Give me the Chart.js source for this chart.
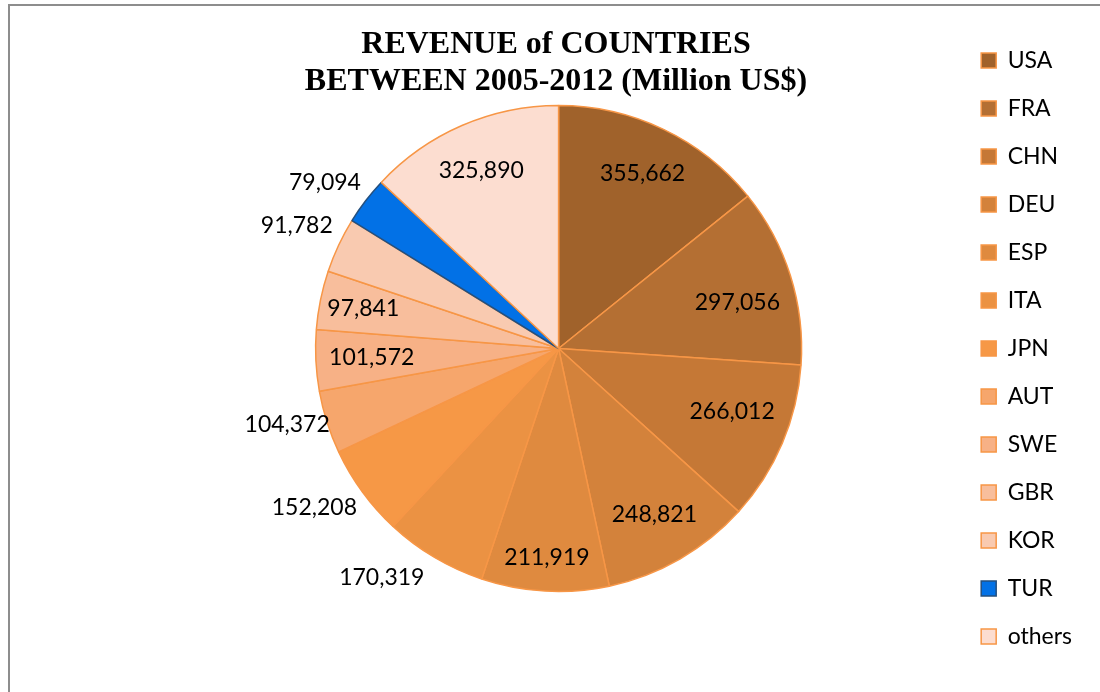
<!DOCTYPE html>
<html>
<head>
<meta charset="utf-8">
<script src="https://cdn.jsdelivr.net/npm/chart.js@4/dist/chart.umd.min.js"></script>
<style>
  html, body { margin: 0; padding: 0; background: #fff; overflow: hidden; }
  #wrap { position: relative; width: 1100px; height: 692px; }
  #frame {
    position: absolute; left: 8px; top: 4px; width: 1200px; height: 800px;
    border-left: 2px solid #8d8d8d; border-top: 2px solid #8d8d8d;
  }
  canvas { position: absolute; left: 0; top: 0; }
</style>
</head>
<body>
<div id="wrap">
  <div id="frame"></div>
  <canvas id="revenuePie" width="1100" height="692"></canvas>
</div>
<script>
// revenue per country, 2005-2012 (million US$)
const countries = ['USA', 'FRA', 'CHN', 'DEU', 'ESP', 'ITA', 'JPN', 'AUT', 'SWE', 'GBR', 'KOR', 'TUR', 'others'];
const revenue = [355662, 297056, 266012, 248821, 211919, 170319, 152208, 104372, 101572, 97841, 91782, 79094, 325890];
const titleLines = ['REVENUE of COUNTRIES', 'BETWEEN 2005-2012 (Million US$)'];

const sliceColors = ['#a0622b', '#b46f33', '#c57836', '#d3823b', '#df8a3f', '#eb9243', '#f69846',
                     '#f6a66c', '#f7b186', '#f8be9c', '#f9cab0', '#0271e6', '#fcddd0'];
const sliceBorders = countries.map(c => c === 'TUR' ? '#24507f' : '#f79646');

// where each value label sits: fraction of radius, plus a small angle nudge (deg)
const labelRadius = [0.80, 0.76, 0.76, 0.79, 0.86, 1.19, 1.20, 1.16, 0.77, 0.82, 1.19, 1.18, 0.80];
const labelNudge  = [0, 3, -3, 0, 0, 7, 3, 2, 0, 0, 0, -2, 0];

const titlePlugin = {
  id: 'twoLineTitle',
  afterDraw(chart) {
    const ctx = chart.ctx;
    ctx.save();
    ctx.font = 'bold 32px "Liberation Serif", "Times New Roman", serif';
    ctx.fillStyle = '#000';
    ctx.textAlign = 'center';
    ctx.textBaseline = 'middle';
    titleLines.forEach((line, i) => ctx.fillText(line, 556, 45 + i * 37));
    ctx.restore();
  }
};

const valueLabels = {
  id: 'valueLabels',
  afterDatasetsDraw(chart) {
    const ctx = chart.ctx;
    const meta = chart.getDatasetMeta(0);
    ctx.save();
    ctx.font = '23px Lato, "Open Sans", sans-serif';
    ctx.fillStyle = '#000';
    ctx.textAlign = 'center';
    ctx.textBaseline = 'middle';
    meta.data.forEach((arc, i) => {
      const p = arc.getProps(['x', 'y', 'startAngle', 'endAngle', 'outerRadius'], true);
      const a = (p.startAngle + p.endAngle) / 2 + labelNudge[i] * Math.PI / 180;
      const r = p.outerRadius * labelRadius[i];
      ctx.fillText(revenue[i].toLocaleString('en-US'), p.x + Math.cos(a) * r, p.y + Math.sin(a) * r);
    });
    ctx.restore();
  }
};

new Chart(document.getElementById('revenuePie'), {
  type: 'pie',
  data: {
    labels: countries,
    datasets: [{
      data: revenue,
      backgroundColor: sliceColors,
      borderColor: sliceBorders,
      borderWidth: 1.5,
      radius: 243
    }]
  },
  options: {
    responsive: false,
    animation: false,
    layout: { padding: { left: 161, top: 5, right: 18, bottom: 0 } },
    plugins: {
      title: { display: false },
      tooltip: { enabled: false },
      legend: {
        position: 'right',
        labels: {
          color: '#000',
          font: { family: 'Lato', size: 23 },
          boxWidth: 15,
          boxHeight: 15,
          padding: 25
        }
      }
    }
  },
  plugins: [titlePlugin, valueLabels]
});
</script>
</body>
</html>
